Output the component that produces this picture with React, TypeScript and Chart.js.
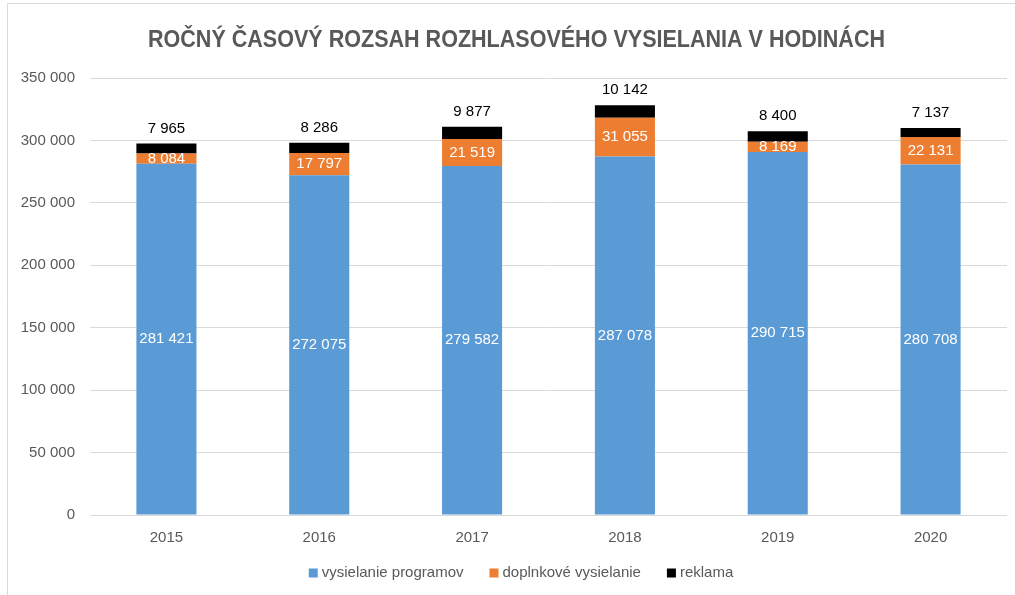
import React, { useEffect, useRef } from "react";
import { Chart, registerables } from "chart.js";

Chart.register(...registerables);

const years = ["2015", "2016", "2017", "2018", "2019", "2020"];
const programy = [281421, 272075, 279582, 287078, 290715, 280708];
const doplnkove = [8084, 17797, 21519, 31055, 8169, 22131];
const reklama = [7965, 8286, 9877, 10142, 8400, 7137];
const seriesNames = ["vysielanie programov", "doplnkové vysielanie", "reklama"];
const seriesColors = ["#5B9BD5", "#ED7D31", "#000000"];
const titleText = "ROČNÝ ČASOVÝ ROZSAH ROZHLASOVÉHO VYSIELANIA V HODINÁCH";

const FONT = "'Liberation Sans Narrow', 'Liberation Sans', Arial, sans-serif";
const fmt = (v: number) => String(v).replace(/\B(?=(\d{3})+(?!\d))/g, " ");

const decor = {
  id: "decor",
  afterDraw(chart: any) {
    const ctx = chart.ctx as CanvasRenderingContext2D;
    ctx.save();
    // frame
    ctx.strokeStyle = "#D9D9D9";
    ctx.lineWidth = 1;
    ctx.beginPath();
    ctx.moveTo(7.5, 595);
    ctx.lineTo(7.5, 3.5);
    ctx.lineTo(1015, 3.5);
    ctx.stroke();

    // title
    ctx.fillStyle = "#595959";
    ctx.font = `bold 23px ${FONT}`;
    ctx.textBaseline = "middle";
    ctx.textAlign = "center";
    const tw = ctx.measureText(titleText).width;
    const target = 737;
    ctx.save();
    ctx.translate(516.5, 41);
    ctx.scale(target / tw, 1);
    ctx.fillText(titleText, 0, 0);
    ctx.restore();

    // data labels
    ctx.font = `15px ${FONT}`;
    ctx.textAlign = "center";
    ctx.textBaseline = "middle";
    chart.data.datasets.forEach((ds: any, di: number) => {
      const meta = chart.getDatasetMeta(di);
      meta.data.forEach((bar: any, i: number) => {
        const v = ds.data[i];
        if (di < 2) {
          ctx.fillStyle = "#FFFFFF";
          ctx.fillText(fmt(v), bar.x, (bar.y + bar.base) / 2);
        } else {
          ctx.fillStyle = "#000000";
          ctx.fillText(fmt(v), bar.x, bar.y - 15);
        }
      });
    });

    // legend
    ctx.font = `15px ${FONT}`;
    ctx.textAlign = "left";
    const box = 9;
    const gapBox = 4;
    const gapItem = 26;
    const widths = seriesNames.map((n) => ctx.measureText(n).width);
    const total = widths.reduce((a, w) => a + box + gapBox + w, 0) + gapItem * (seriesNames.length - 1);
    let x = 521 - total / 2;
    const ly = 573;
    seriesNames.forEach((n, i) => {
      ctx.fillStyle = seriesColors[i];
      ctx.fillRect(x, ly - box / 2, box, box);
      x += box + gapBox;
      ctx.fillStyle = "#595959";
      ctx.fillText(n, x, ly);
      x += widths[i] + gapItem;
    });
    ctx.restore();
  },
};

export default function App() {
  const ref = useRef<HTMLCanvasElement>(null);
  useEffect(() => {
    if (!ref.current) return;
    const chart = new Chart(ref.current, {
      type: "bar",
      data: {
        labels: years,
        datasets: [
          { label: seriesNames[0], data: programy, backgroundColor: seriesColors[0] },
          { label: seriesNames[1], data: doplnkove, backgroundColor: seriesColors[1] },
          { label: seriesNames[2], data: reklama, backgroundColor: seriesColors[2] },
        ],
      },
      options: {
        responsive: false,
        animation: false,
        layout: { padding: { top: 78, bottom: 0, left: 0, right: 8 } },
        datasets: { bar: { categoryPercentage: 1, barPercentage: 0.393 } },
        plugins: { legend: { display: false }, title: { display: false }, tooltip: { enabled: false } },
        scales: {
          x: {
            stacked: true,
            grid: { display: false, drawTicks: false },
            border: { display: false },
            ticks: { color: "#595959", font: { family: FONT, size: 15 }, padding: 14 },
            afterFit: (s: any) => { s.height = 80; },
          },
          y: {
            stacked: true,
            min: 0,
            max: 350000,
            grid: { color: "#D9D9D9", drawTicks: false },
            border: { display: false },
            ticks: {
              stepSize: 50000,
              color: "#595959",
              font: { family: FONT, size: 15 },
              padding: 15,
              callback: (v: any) => fmt(Number(v)),
            },
            afterFit: (s: any) => { s.width = 90; },
          },
        },
      },
      plugins: [decor],
    });
    return () => chart.destroy();
  }, []);
  return (
    <canvas
      ref={ref}
      width={1015}
      height={595}
      style={{ position: "absolute", left: 0, top: 0, width: 1015, height: 595, background: "#fff" }}
    />
  );
}
